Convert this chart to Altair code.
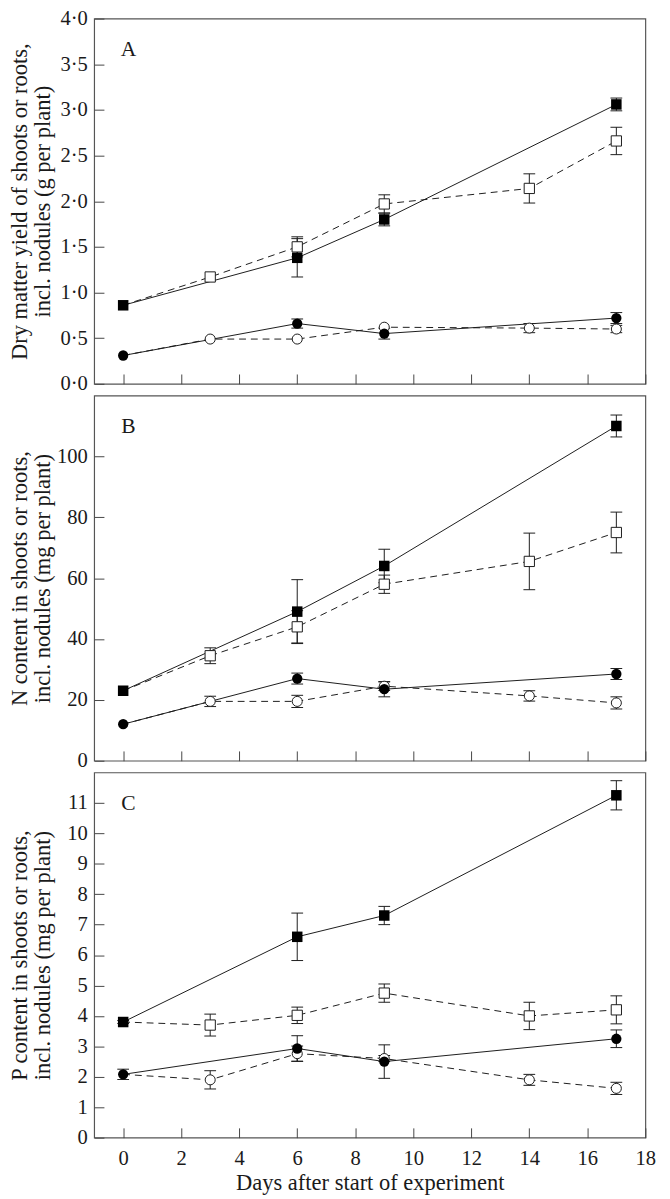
import altair as alt
import pandas as pd

# ---------------- data ----------------
days_filled = [0, 6, 9, 17]
days_open = [0, 3, 6, 9, 14, 17]

panel_letters = ["A", "B", "C"]

# Panel A: dry matter yield (g per plant)
a_sq_filled = [0.86, 1.38, 1.80, 3.06]
a_sq_filled_err = [0.0, 0.21, 0.07, 0.07]
a_sq_open = [0.86, 1.17, 1.50, 1.97, 2.14, 2.66]
a_sq_open_err = [0.0, 0.0, 0.11, 0.10, 0.16, 0.15]
a_ci_filled = [0.31, 0.66, 0.55, 0.72]
a_ci_filled_err = [0.0, 0.05, 0.06, 0.06]
a_ci_open = [0.31, 0.49, 0.49, 0.62, 0.61, 0.60]
a_ci_open_err = [0.0, 0.0, 0.0, 0.0, 0.05, 0.04]

# Panel B: N content (mg per plant)
b_sq_filled = [23.0, 49.0, 64.0, 110.0]
b_sq_filled_err = [0.0, 10.5, 5.5, 3.6]
b_sq_open = [23.0, 34.5, 44.0, 58.0, 65.5, 75.0]
b_sq_open_err = [0.0, 2.6, 5.3, 3.0, 9.3, 6.7]
b_ci_filled = [12.0, 27.0, 23.5, 28.5]
b_ci_filled_err = [0.0, 1.8, 2.5, 1.8]
b_ci_open = [12.0, 19.5, 19.5, 24.5, 21.3, 19.0]
b_ci_open_err = [0.0, 1.7, 2.0, 1.4, 1.7, 2.0]

# Panel C: P content (mg per plant)
c_sq_filled = [3.8, 6.6, 7.3, 11.25]
c_sq_filled_err = [0.05, 0.78, 0.30, 0.48]
c_sq_open = [3.8, 3.7, 4.02, 4.75, 4.0, 4.2]
c_sq_open_err = [0.0, 0.36, 0.27, 0.30, 0.45, 0.46]
c_ci_filled = [2.08, 2.93, 2.5, 3.25]
c_ci_filled_err = [0.17, 0.42, 0.55, 0.29]
c_ci_open = [2.08, 1.9, 2.76, 2.6, 1.9, 1.62]
c_ci_open_err = [0.0, 0.3, 0.25, 0.1, 0.18, 0.2]

x_ticks = [0, 2, 4, 6, 8, 10, 12, 14, 16, 18]
a_ticks = [0.0, 0.5, 1.0, 1.5, 2.0, 2.5, 3.0, 3.5, 4.0]
b_ticks = [0, 20, 40, 60, 80, 100]
c_ticks = [0, 1, 2, 3, 4, 5, 6, 7, 8, 9, 10, 11]

a_title = ["Dry matter yield of shoots or roots,", "incl. nodules (g per plant)"]
b_title = ["N content in shoots or roots,", "incl. nodules (mg per plant)"]
c_title = ["P content in shoots or roots,", "incl. nodules (mg per plant)"]
x_title = "Days after start of experiment"

# ---------------- table ----------------
rows = []
def add(panel, series, days, vals, errs):
    for d, v, e in zip(days, vals, errs):
        rows.append({"panel": panel, "series": series, "day": d, "value": v, "err": e})

add("A", "sq_filled", days_filled, a_sq_filled, a_sq_filled_err)
add("A", "sq_open", days_open, a_sq_open, a_sq_open_err)
add("A", "ci_filled", days_filled, a_ci_filled, a_ci_filled_err)
add("A", "ci_open", days_open, a_ci_open, a_ci_open_err)
add("B", "sq_filled", days_filled, b_sq_filled, b_sq_filled_err)
add("B", "sq_open", days_open, b_sq_open, b_sq_open_err)
add("B", "ci_filled", days_filled, b_ci_filled, b_ci_filled_err)
add("B", "ci_open", days_open, b_ci_open, b_ci_open_err)
add("C", "sq_filled", days_filled, c_sq_filled, c_sq_filled_err)
add("C", "sq_open", days_open, c_sq_open, c_sq_open_err)
add("C", "ci_filled", days_filled, c_ci_filled, c_ci_filled_err)
add("C", "ci_open", days_open, c_ci_open, c_ci_open_err)
df = pd.DataFrame(rows)
df["lo"] = df["value"] - df["err"]
df["hi"] = df["value"] + df["err"]

W = 563
H = 373
FONT = "Liberation Serif"
INK = "#1a1a1a"
LABEL_SIZE = 21
TITLE_SIZE = 23


def panel(letter, ydomain, yticks, title, labelexpr, bottom):
    base = alt.Chart(df).transform_filter(alt.datum.panel == letter)
    xscale = alt.Scale(domain=[-1, 18], nice=False, zero=False)
    yscale = alt.Scale(domain=ydomain, nice=False, zero=False)
    xaxis = alt.Axis(
        values=x_ticks, tickSize=10, offset=-10, domain=False, grid=False,
        labels=bottom, title=x_title if bottom else None,
        labelFlush=False, labelOverlap=False, labelPadding=10,
        labelFont=FONT, labelFontSize=LABEL_SIZE, labelColor=INK,
        titleFont=FONT, titleFontSize=TITLE_SIZE, titleFontWeight="normal",
        titleColor=INK, titlePadding=4, tickColor="#444", tickWidth=1,
    )
    yaxis = alt.Axis(
        values=yticks, tickSize=10, offset=-10, domain=False, grid=False,
        labelExpr=labelexpr, labelOverlap=False, labelPadding=7,
        labelFont=FONT, labelFontSize=LABEL_SIZE, labelColor=INK,
        title=title, titleFont=FONT, titleFontSize=TITLE_SIZE, titleFontWeight="normal",
        titleColor=INK, titleAngle=270, titleX=-79, titleY=H / 2,
        titleAlign="center", titleBaseline="alphabetic", titleLineHeight=23,
        tickColor="#444", tickWidth=1,
    )
    X = alt.X("day:Q", scale=xscale, axis=xaxis)
    Y = alt.Y("value:Q", scale=yscale, axis=yaxis)
    Ylo = alt.Y("lo:Q", scale=yscale, axis=yaxis)
    Yhi = alt.Y("hi:Q", scale=yscale, axis=yaxis)

    errs = base.transform_filter(alt.datum.err > 0)
    err_rule = errs.mark_rule(color=INK, strokeWidth=1).encode(x=X, y=Ylo, y2="hi:Q")
    cap_lo = errs.mark_tick(orient="horizontal", size=12, thickness=1, color=INK, opacity=1).encode(
        x=X, y=Ylo)
    cap_hi = errs.mark_tick(orient="horizontal", size=12, thickness=1, color=INK, opacity=1).encode(
        x=X, y=Yhi)

    solid = base.transform_filter(
        (alt.datum.series == "sq_filled") | (alt.datum.series == "ci_filled")
    ).mark_line(color=INK, strokeWidth=1).encode(x=X, y=Y, detail="series:N", order="day:Q")
    dashed = base.transform_filter(
        (alt.datum.series == "sq_open") | (alt.datum.series == "ci_open")
    ).mark_line(color=INK, strokeWidth=1, strokeDash=[7, 5]).encode(
        x=X, y=Y, detail="series:N", order="day:Q")

    open_sq = base.transform_filter((alt.datum.series == "sq_open") & (alt.datum.day > 0)).mark_square(
        size=110, fill="white", stroke=INK, strokeWidth=1, opacity=1).encode(x=X, y=Y)
    open_ci = base.transform_filter((alt.datum.series == "ci_open") & (alt.datum.day > 0)).mark_circle(
        size=105, fill="white", stroke=INK, strokeWidth=1, opacity=1).encode(x=X, y=Y)
    fill_sq = base.transform_filter(alt.datum.series == "sq_filled").mark_square(
        size=115, color="black", opacity=1).encode(x=X, y=Y)
    fill_ci = base.transform_filter(alt.datum.series == "ci_filled").mark_circle(
        size=110, color="black", opacity=1).encode(x=X, y=Y)

    lab = alt.Chart(pd.DataFrame({"t": [letter]})).mark_text(
        font=FONT, fontSize=22, color=INK, align="center", baseline="middle"
    ).encode(text="t:N", x=alt.value(35), y=alt.value(31))

    return alt.layer(
        solid, dashed, err_rule, cap_lo, cap_hi, open_sq, open_ci, fill_sq, fill_ci, lab
    ).properties(width=W, height=H)


dot_expr = "replace(format(datum.value, '.1f'), '.', '\u00b7')"
pA = panel("A", [0, 4.0], a_ticks, a_title, dot_expr, False)
pB = panel("B", [0, 120], b_ticks, b_title, "format(datum.value, 'd')", False)
pC = panel("C", [0, 12], c_ticks, c_title, "format(datum.value, 'd')", True)

chart = alt.vconcat(pA, pB, pC, spacing=0).properties(
    padding={"left": 0, "top": -14, "right": 5, "bottom": 0},
    background="white",
).configure_view(stroke="#555", strokeWidth=1.2)

chart.save("out.html", embed_options={"renderer": "svg", "actions": False})
